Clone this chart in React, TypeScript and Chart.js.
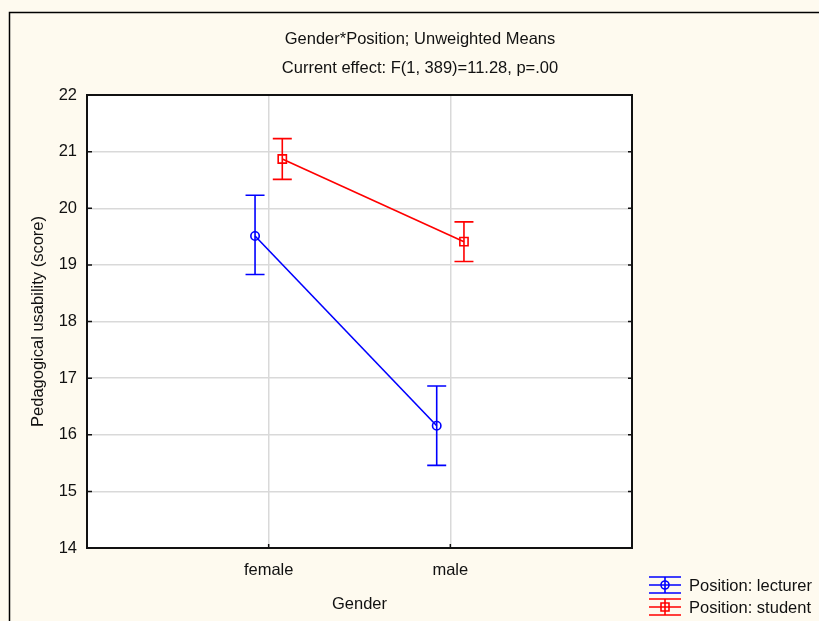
import React, { useEffect, useRef } from 'react';
import { Chart, registerables } from 'chart.js';

Chart.register(...registerables);

// ---- data ----
const categories = ['female', 'male'];
const seriesNames = ['Position: lecturer', 'Position: student'];
const lecturerMeans = [19.51, 16.16];
const lecturerLow = [18.83, 15.46];
const lecturerHigh = [20.23, 16.86];
const studentMeans = [20.87, 19.41];
const studentLow = [20.51, 19.06];
const studentHigh = [21.23, 19.76];
const yMin = 14;
const yMax = 22;
const titleText = 'Gender*Position; Unweighted Means';
const subtitleText = 'Current effect: F(1, 389)=11.28, p=.00';
const xTitle = 'Gender';
const yTitle = 'Pedagogical usability (score)';

// ---- style ----
const W = 819;
const H = 621;
const FONT = "'Liberation Sans', Arial, sans-serif";
const FS = 16.5;
const TEXT = '#111111';
const CREAM = '#FEFAEF';
const GRID = '#D9D9D9';
const BLUE = '#0000FF';
const RED = '#FF0000';
const DODGE = 0.075;

const bgPlugin = {
  id: 'bg',
  beforeDraw(chart: any) {
    const { ctx, chartArea } = chart;
    ctx.save();
    ctx.fillStyle = CREAM;
    ctx.fillRect(0, 0, chart.width, chart.height);
    ctx.fillStyle = '#FFFFFF';
    ctx.fillRect(chartArea.left, chartArea.top, chartArea.right - chartArea.left, chartArea.bottom - chartArea.top);
    ctx.restore();
  },
};

const errorBarPlugin = {
  id: 'errbars',
  afterDatasetsDraw(chart: any) {
    const { ctx } = chart;
    const ys = chart.scales.y;
    chart.data.datasets.forEach((ds: any, i: number) => {
      const meta = chart.getDatasetMeta(i);
      meta.data.forEach((pt: any, j: number) => {
        const lo = ys.getPixelForValue(ds.errLow[j]);
        const hi = ys.getPixelForValue(ds.errHigh[j]);
        ctx.save();
        ctx.strokeStyle = ds.borderColor;
        ctx.lineWidth = 1.6;
        ctx.beginPath();
        ctx.moveTo(pt.x, hi);
        ctx.lineTo(pt.x, lo);
        ctx.moveTo(pt.x - 9.5, hi);
        ctx.lineTo(pt.x + 9.5, hi);
        ctx.moveTo(pt.x - 9.5, lo);
        ctx.lineTo(pt.x + 9.5, lo);
        ctx.stroke();
        ctx.restore();
      });
    });
  },
};

const framePlugin = {
  id: 'frame',
  afterDraw(chart: any) {
    const { ctx, chartArea } = chart;
    const { left, top, right, bottom } = chartArea;
    ctx.save();
    // outer frame
    ctx.strokeStyle = '#000';
    ctx.lineWidth = 1.5;
    ctx.strokeRect(9.5, 12.5, chart.width + 20, chart.height + 20);
    // plot frame
    ctx.lineWidth = 2;
    ctx.strokeStyle = '#111';
    ctx.strokeRect(left, top, right - left, bottom - top);
    // inward ticks
    ctx.lineWidth = 1.5;
    ctx.beginPath();
    const ys = chart.scales.y;
    ys.ticks.forEach((t: any) => {
      const py = ys.getPixelForValue(t.value);
      ctx.moveTo(left, py);
      ctx.lineTo(left + 5, py);
      ctx.moveTo(right, py);
      ctx.lineTo(right - 4, py);
    });
    const xs = chart.scales.x;
    categories.forEach((_c, i) => {
      const px = xs.getPixelForValue(i + 1);
      ctx.moveTo(px, bottom);
      ctx.lineTo(px, bottom - 4);
    });
    ctx.stroke();

    // legend
    chart.data.datasets.forEach((ds: any, i: number) => {
      const cy = bottom + 37 + i * 22;
      const x0 = right + 17;
      const x1 = right + 49;
      const cx = (x0 + x1) / 2;
      ctx.strokeStyle = ds.borderColor;
      ctx.lineWidth = 1.6;
      ctx.beginPath();
      [-8, 0, 8].forEach((d) => {
        ctx.moveTo(x0, cy + d);
        ctx.lineTo(x1, cy + d);
      });
      ctx.moveTo(cx, cy - 8);
      ctx.lineTo(cx, cy + 8);
      ctx.stroke();
      ctx.beginPath();
      if (ds.pointStyle === 'circle') {
        ctx.arc(cx, cy, 4, 0, Math.PI * 2);
      } else {
        ctx.rect(cx - 4, cy - 4, 8, 8);
      }
      ctx.stroke();
      ctx.fillStyle = TEXT;
      ctx.font = `${FS}px ${FONT}`;
      ctx.textAlign = 'left';
      ctx.textBaseline = 'middle';
      ctx.fillText(ds.label, right + 57, cy + 1);
    });
    ctx.restore();
  },
};

export default function App() {
  const ref = useRef<HTMLCanvasElement | null>(null);

  useEffect(() => {
    if (!ref.current) return;
    Chart.defaults.font.family = FONT;
    Chart.defaults.color = TEXT;
    const chart = new Chart(ref.current, {
      type: 'scatter',
      data: {
        datasets: [
          {
            label: seriesNames[0],
            data: categories.map((_c, i) => ({ x: i + 1 - DODGE, y: lecturerMeans[i] })),
            errLow: lecturerLow,
            errHigh: lecturerHigh,
            showLine: true,
            borderColor: BLUE,
            backgroundColor: 'rgba(255,255,255,0)',
            borderWidth: 1.6,
            pointStyle: 'circle',
            pointRadius: 4.2,
            pointBorderWidth: 1.6,
            pointBackgroundColor: 'rgba(255,255,255,0)',
          } as any,
          {
            label: seriesNames[1],
            data: categories.map((_c, i) => ({ x: i + 1 + DODGE, y: studentMeans[i] })),
            errLow: studentLow,
            errHigh: studentHigh,
            showLine: true,
            borderColor: RED,
            backgroundColor: 'rgba(255,255,255,0)',
            borderWidth: 1.6,
            pointStyle: 'rect',
            pointRadius: 5.8,
            pointBorderWidth: 1.6,
            pointBackgroundColor: 'rgba(255,255,255,0)',
          } as any,
        ],
      },
      options: {
        responsive: false,
        animation: false,
        layout: { padding: { left: 21, right: 0, top: 0, bottom: 0 } },
        plugins: {
          legend: { display: false },
          tooltip: { enabled: false },
          title: {
            display: true,
            text: titleText,
            color: TEXT,
            font: { size: FS, weight: 'normal' },
            padding: { top: 30, bottom: 0 },
          },
          subtitle: {
            display: true,
            text: subtitleText,
            color: TEXT,
            font: { size: FS, weight: 'normal' },
            padding: { top: 8.4, bottom: 17 },
          },
        },
        scales: {
          x: {
            type: 'linear',
            min: 0,
            max: 3,
            afterBuildTicks: (s: any) => {
              s.ticks = [0, 1, 2, 3].map((v) => ({ value: v }));
            },
            afterFit: (s: any) => {
              s.height = 73;
            },
            ticks: {
              padding: 13,
              font: { size: FS },
              color: TEXT,
              callback: (v: any) => categories[Number(v) - 1] ?? '',
            },
            grid: {
              color: (c: any) => (c.tick && c.tick.value > 0 && c.tick.value < 3 ? GRID : 'rgba(0,0,0,0)'),
              lineWidth: 1.5,
              drawTicks: false,
            },
            border: { display: false },
            title: {
              display: true,
              text: xTitle,
              color: TEXT,
              font: { size: FS },
              padding: { top: 0, bottom: 6.2 },
            },
          },
          y: {
            type: 'linear',
            min: yMin,
            max: yMax,
            afterFit: (s: any) => {
              s.width = 66;
            },
            ticks: { stepSize: 1, padding: 10, font: { size: FS }, color: TEXT },
            grid: { color: GRID, lineWidth: 1.5, drawTicks: false },
            border: { display: false },
            title: {
              display: true,
              text: yTitle,
              color: TEXT,
              font: { size: FS },
              padding: { top: 7.2, bottom: 0 },
            },
          },
          y2: {
            type: 'linear',
            position: 'right',
            min: yMin,
            max: yMax,
            display: true,
            afterFit: (s: any) => {
              s.width = 187;
            },
            ticks: { display: false },
            grid: { display: false },
            border: { display: false },
          },
        },
      } as any,
      plugins: [bgPlugin, errorBarPlugin, framePlugin],
    });
    return () => chart.destroy();
  }, []);

  return (
    <div style={{ position: 'absolute', left: 0, top: 0, width: W, height: H }}>
      <canvas ref={ref} width={W} height={H} style={{ display: 'block', width: W, height: H }} />
    </div>
  );
}
